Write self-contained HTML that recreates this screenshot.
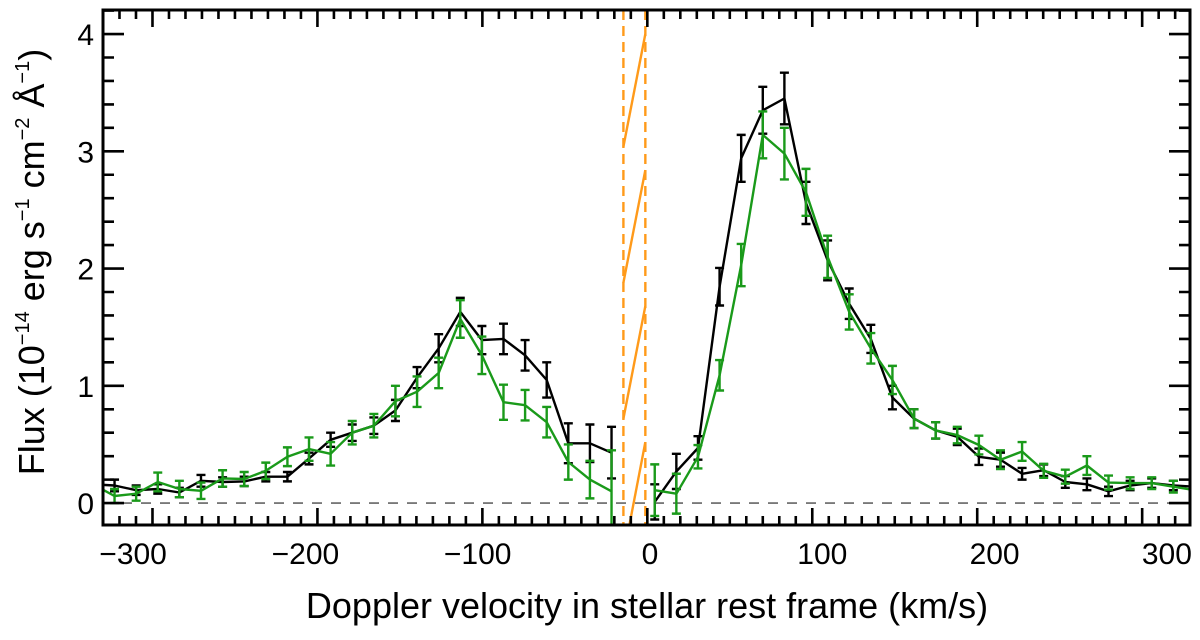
<!DOCTYPE html>
<html><head><meta charset="utf-8"><style>
body{margin:0;background:#fff;}
svg{display:block;font-family:"Liberation Sans",Helvetica,sans-serif;}
</style></head><body>
<svg id="chart" width="1200" height="640" viewBox="0 0 1200 640" xmlns="http://www.w3.org/2000/svg">
<g id="plot"></g>
</svg>
<script>
const velocities = [];
const nBins = 52;
const vStart = -336.1, vStep = 13.1;
for (let i = 0; i < nBins; i++) velocities.push(vStart + vStep * i);
const blackFlux = [0.16,0.15,0.11,0.12,0.09,0.19,0.18,0.185,0.225,0.225,0.38,0.54,0.6,0.66,0.79,1.07,1.32,1.63,1.39,1.40,1.26,1.05,0.51,0.51,0.43,null,0.01,0.27,0.47,1.845,2.94,3.35,3.45,2.56,2.07,1.70,1.40,0.90,0.72,0.62,0.565,0.395,0.37,0.25,0.28,0.18,0.16,0.10,0.15,0.17,0.15,0.14];
const blackErr  = [0.05,0.05,0.04,0.04,0.04,0.05,0.04,0.04,0.04,0.04,0.05,0.06,0.07,0.07,0.09,0.09,0.12,0.12,0.12,0.13,0.13,0.15,0.17,0.16,0.22,null,0.15,0.15,0.1,0.16,0.2,0.2,0.22,0.18,0.17,0.13,0.12,0.1,0.08,0.07,0.07,0.07,0.06,0.05,0.05,0.05,0.05,0.04,0.04,0.04,0.04,0.04];
const greenFlux = [0.16,0.06,0.08,0.18,0.12,0.105,0.21,0.205,0.275,0.395,0.46,0.42,0.6,0.66,0.87,0.95,1.11,1.57,1.26,0.86,0.835,0.69,0.35,0.2,0.10,null,0.11,0.08,0.395,1.09,2.03,3.14,2.98,2.65,2.10,1.63,1.32,1.05,0.72,0.62,0.58,0.495,0.37,0.44,0.275,0.225,0.32,0.175,0.17,0.17,0.14,0.11];
const greenErr  = [0.06,0.06,0.06,0.08,0.07,0.07,0.07,0.06,0.07,0.08,0.1,0.1,0.1,0.1,0.13,0.13,0.13,0.16,0.16,0.15,0.13,0.13,0.15,0.16,0.35,null,0.22,0.17,0.1,0.13,0.18,0.2,0.22,0.2,0.18,0.15,0.13,0.12,0.08,0.07,0.07,0.08,0.08,0.08,0.06,0.06,0.08,0.06,0.05,0.05,0.05,0.05];
const orangeSegments = [[-14.5,3.04,-1.2,4.0],[-14.5,1.88,-1.2,2.84],[-14.5,0.72,-1.2,1.68],[-10.9,-0.19,-1.2,0.52]];
const maskEdges = [-14.5,-1.2];
const xTickLabels = [-300,-200,-100,0,100,200,300];
const yTickLabels = [0,1,2,3,4];

const L=103,R=1190,T=10,B=525;
const xMin=-330,xMax=329,yMin=-0.187,yMax=4.205;
const X=v=>L+(v-xMin)/(xMax-xMin)*(R-L);
const XL=v=>650+1.723*v;
const Y=f=>B-(f-yMin)/(yMax-yMin)*(B-T);
const NS='http://www.w3.org/2000/svg';
const plot=document.getElementById('plot');
function mk(tag,attrs,parent){const e=document.createElementNS(NS,tag);for(const k in attrs)e.setAttribute(k,attrs[k]);(parent||plot).appendChild(e);return e;}

const defs=mk('defs',{});
const cp=mk('clipPath',{id:'clip'},defs);
mk('rect',{x:L,y:T,width:R-L,height:B-T},cp);

const zl=mk('line',{x1:L,x2:R,y1:Y(0),y2:Y(0),stroke:'#666','stroke-width':1.6,'stroke-dasharray':'10,9'});



const data=mk('g',{'clip-path':'url(#clip)'});



maskEdges.forEach(v=>{
  const d=mk('line',{x1:X(v),x2:X(v),y1:T,y2:B,stroke:'#ff9a1a','stroke-width':2.4,'stroke-dasharray':'10,6'},data);
  
  
});
orangeSegments.forEach(s=>{
  const o=mk('line',{x1:X(s[0]),y1:Y(s[1]),x2:X(s[2]),y2:Y(s[3]),stroke:'#ff9a1a','stroke-width':2.4},data);
  
  
});

function series(flux,err,color,name){
  const g=mk('g',{},data);
  
  
  let d='',pen=false;
  flux.forEach((f,i)=>{
    if(f===null){pen=false;return;}
    d+=(pen?'L':'M')+X(velocities[i]).toFixed(1)+' '+Y(f).toFixed(1)+' ';pen=true;
  });
  const p=mk('path',{d:d,fill:'none',stroke:color,'stroke-width':2.4,'stroke-linejoin':'round'},g);
  
  
  flux.forEach((f,i)=>{
    if(f===null)return;
    const x=X(velocities[i]),y1=Y(f+err[i]),y2=Y(f-err[i]);
    const e=mk('path',{d:`M${x} ${y1}V${y2}M${x-4.5} ${y1}H${x+4.5}M${x-4.5} ${y2}H${x+4.5}`,stroke:color,'stroke-width':2.4,fill:'none'},g);
    
    
  });
}
series(blackFlux,blackErr,'#000','black-spectrum');
series(greenFlux,greenErr,'#1a9a1a','green-spectrum');

const frame=mk('rect',{x:L,y:T,width:R-L,height:B-T,fill:'none',stroke:'#000','stroke-width':3});



let tp='';
for(let v=-330;v<=329;v+=10){
  const x=X(v),len=(v%100===0)?17:9;
  tp+=`M${x} ${B}V${B-len}M${x} ${T}V${T+len}`;
}
for(let k=-1;k<=42;k++){
  const f=k*0.2;if(f<yMin||f>yMax)continue;
  const y=Y(f),len=(k%5===0)?21:11;
  tp+=`M${L} ${y}H${L+len}M${R} ${y}H${R-len}`;
}
const ticks=mk('path',{d:tp,stroke:'#000','stroke-width':2.6,fill:'none'});



xTickLabels.forEach(v=>{
  const t=mk('text',{x:XL(v),y:564,'font-size':30,'text-anchor':'middle'});
  t.textContent=(v<0?'\u2212':'')+Math.abs(v);
  
  
});
yTickLabels.forEach(f=>{
  const t=mk('text',{x:94,y:Y(f)+11,'font-size':30,'text-anchor':'end'});
  t.textContent=String(f);
  
  
});
const xt=mk('text',{x:647,y:618,'font-size':36,'text-anchor':'middle'});
xt.textContent='Doppler velocity in stellar rest frame (km/s)';


const yt=mk('text',{x:0,y:0,'font-size':36,'text-anchor':'middle',transform:'translate(44,262) rotate(-90)'});
yt.innerHTML='Flux (10<tspan font-size="20" dy="-15">\u221214</tspan><tspan dy="15"> erg s</tspan><tspan font-size="20" dy="-15">\u22121</tspan><tspan dy="15"> cm</tspan><tspan font-size="20" dy="-15">\u22122</tspan><tspan dy="15"> \u00c5</tspan><tspan font-size="20" dy="-15">\u22121</tspan><tspan dy="15">)</tspan>';


</script>
</body></html>
